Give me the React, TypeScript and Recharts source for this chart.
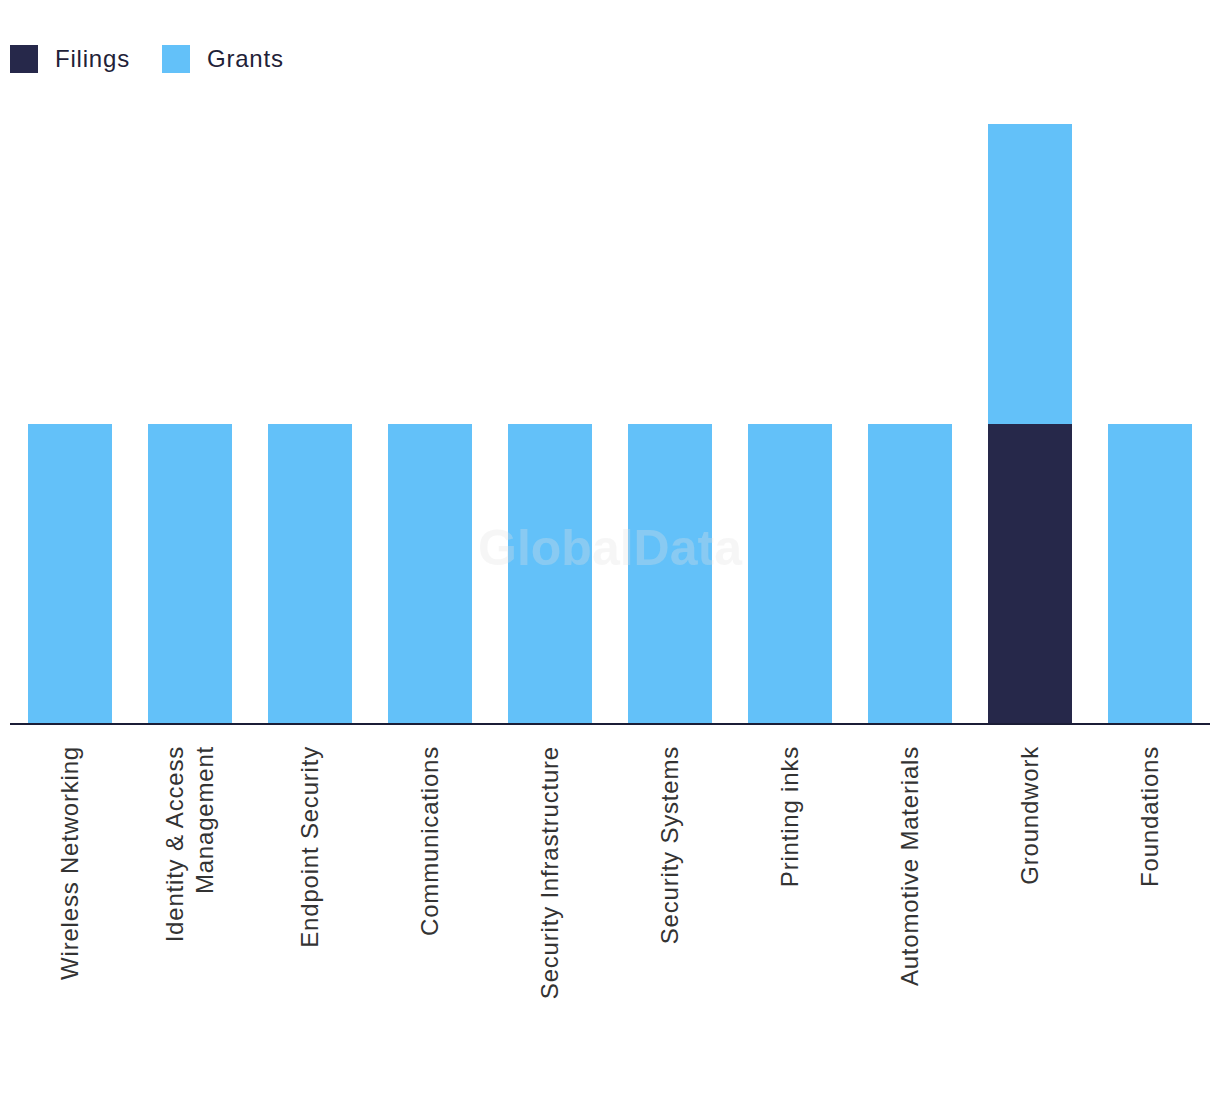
import React from 'react';
import { BarChart, Bar, XAxis, YAxis } from 'recharts';

const categories = [
  'Wireless Networking',
  'Identity & Access Management',
  'Endpoint Security',
  'Communications',
  'Security Infrastructure',
  'Security Systems',
  'Printing inks',
  'Automotive Materials',
  'Groundwork',
  'Foundations',
];
const filings = [0, 0, 0, 0, 0, 0, 0, 0, 1, 0];
const grants = [1, 1, 1, 1, 1, 1, 1, 1, 1, 1];

const series = [
  { key: 'filings', name: 'Filings', color: '#26284A' },
  { key: 'grants', name: 'Grants', color: '#63C1F9' },
];

const FONT = '"Liberation Sans", Arial, sans-serif';

const chartData = categories.map((name, i) => ({
  name,
  filings: filings[i],
  grants: grants[i],
}));

// split long labels into lines (rough width by char count)
const wrapLabel = (label: string, maxChars = 24) => {
  if (label.length <= maxChars) return [label];
  const words = label.split(' ');
  const lines: string[] = [];
  let cur = '';
  words.forEach((w) => {
    const next = cur ? cur + ' ' + w : w;
    if (next.length > maxChars - 6 && cur) {
      lines.push(cur);
      cur = w;
    } else {
      cur = next;
    }
  });
  if (cur) lines.push(cur);
  return lines;
};

const RotatedTick = ({ x, y, payload }: any) => {
  const lines = wrapLabel(String(payload.value));
  const lh = 30;
  return (
    <g transform={`translate(${x},${y + 20}) rotate(-90)`}>
      <text textAnchor="end" fill="#333333" fontSize={24} letterSpacing={0.8} fontFamily={FONT}>
        {lines.map((l, i) => (
          <tspan key={i} x={0} y={(i - (lines.length - 1) / 2) * lh} dy="0.35em">
            {l}
          </tspan>
        ))}
      </text>
    </g>
  );
};

const App = () => {
  return (
    <div style={{ position: 'relative', width: 1220, height: 1094, fontFamily: FONT }}>
      <style>{'body{margin:0}'}</style>
      <div style={{ position: 'absolute', top: 45, left: 10, display: 'flex', alignItems: 'center' }}>
        {series.map((s) => (
          <div key={s.key} style={{ display: 'flex', alignItems: 'center', marginRight: 32 }}>
            <div style={{ width: 28, height: 28, background: s.color, marginRight: 17 }} />
            <span style={{ fontSize: 24, letterSpacing: 0.8, color: '#1F2238' }}>{s.name}</span>
          </div>
        ))}
      </div>
      <BarChart
        width={1220}
        height={1094}
        data={chartData}
        margin={{ top: 124, right: 10, left: 10, bottom: 0 }}
        barSize={84}
      >
        <XAxis
          dataKey="name"
          interval={0}
          height={370}
          tickLine={false}
          tickSize={0}
          axisLine={{ stroke: '#1B1D36', strokeWidth: 2 }}
          tick={<RotatedTick />}
        />
        <YAxis hide domain={[0, 2]} />
        {series.map((s) => (
          <Bar key={s.key} dataKey={s.key} name={s.name} stackId="a" fill={s.color} isAnimationActive={false} />
        ))}
      </BarChart>
      {/* watermark sits over the bars */}
      <div
        style={{
          position: 'absolute',
          left: 0,
          width: 1220,
          top: 518,
          textAlign: 'center',
          fontSize: 50,
          lineHeight: '60px',
          fontWeight: 'bold',
          color: 'rgba(224,224,224,0.3)',
          pointerEvents: 'none',
        }}
      >
        GlobalData
      </div>
    </div>
  );
};

export default App;
